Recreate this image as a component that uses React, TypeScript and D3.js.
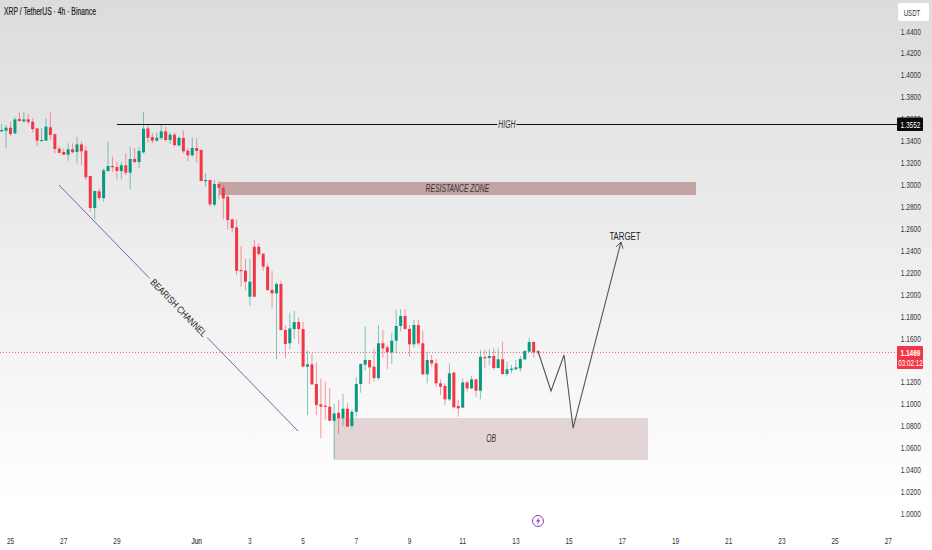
import React from "react";
import * as d3 from "d3";

const W = 932, H = 550;
const priceTicks = d3.range(0, 23).map(i => 1 + i * 0.02);
const dayTicks: [number, string][] = [[0,"25"],[2,"27"],[4,"29"],[7,"Jun"],[9,"3"],[11,"5"],[13,"7"],[15,"9"],[17,"11"],[19,"13"],[21,"15"],[23,"17"],[25,"19"],[27,"21"],[29,"23"],[31,"25"],[33,"27"]];

const directions = "GGRGRGRRRGGRRRRGRGRRRGRGGRRGRGRGGRRGGRGRGRRGRRGRGRRRRRRRGRRRRRGRRGGRRGRRRRRGRGRGGGGRRGRRGGGRRGRRGRRRRGRRGRGRGRGRGRGGGGGGRR";
const highs = [1.3552,1.3543,1.3573,1.3613,1.3658,1.3658,1.3643,1.3604,1.3518,1.3512,1.3604,1.3658,1.3467,1.3345,1.3330,1.3376,1.3376,1.3436,1.3391,1.3351,1.3078,1.2941,1.2965,1.3148,1.3391,1.3254,1.3208,1.3208,1.3284,1.3345,1.3330,1.3345,1.3664,1.3543,1.3467,1.3476,1.3543,1.3522,1.3473,1.3473,1.3436,1.3491,1.3330,1.3430,1.3421,1.3321,1.3102,1.3047,1.3041,1.3035,1.2996,1.2904,1.2692,1.2682,1.2439,1.2321,1.2318,1.2494,1.2464,1.2372,1.2281,1.2211,1.2108,1.2123,1.1719,1.1831,1.1850,1.1789,1.1749,1.1485,1.1460,1.1375,1.1232,1.1202,1.1141,1.1004,1.1035,1.1090,1.1010,1.0950,1.1242,1.1369,1.1704,1.1400,1.1506,1.1719,1.1673,1.1536,1.1649,1.1856,1.1862,1.1865,1.1719,1.1765,1.1765,1.1664,1.1476,1.1445,1.1409,1.1223,1.1187,1.1369,1.1293,1.1035,1.1233,1.1211,1.1254,1.1223,1.1491,1.1491,1.1497,1.1506,1.1506,1.1567,1.1385,1.1354,1.1400,1.1436,1.1491,1.1603,1.1567,1.1491];
const bodyTops = [1.3497,1.3518,1.3518,1.3594,1.3598,1.3594,1.3594,1.3573,1.3512,1.3406,1.3528,1.3522,1.3458,1.3327,1.3297,1.3321,1.3321,1.3366,1.3366,1.3309,1.3078,1.2941,1.2938,1.3129,1.3169,1.3169,1.3160,1.3175,1.3175,1.3233,1.3233,1.3306,1.3509,1.3512,1.3433,1.3427,1.3485,1.3485,1.3455,1.3455,1.3427,1.3424,1.3309,1.3333,1.3333,1.3315,1.3041,1.3041,1.3005,1.3005,1.2971,1.2889,1.2682,1.2609,1.2220,1.2214,1.2114,1.2433,1.2433,1.2369,1.2251,1.2038,1.2093,1.2093,1.1673,1.1688,1.1746,1.1746,1.1682,1.1360,1.1360,1.1181,1.0995,1.0983,1.0974,1.0913,1.0919,1.0956,1.0956,1.0928,1.1181,1.1363,1.1400,1.1400,1.1339,1.1552,1.1552,1.1515,1.1576,1.1710,1.1801,1.1801,1.1683,1.1719,1.1719,1.1552,1.1400,1.1400,1.1369,1.1187,1.1163,1.1278,1.1284,1.0980,1.1196,1.1196,1.1223,1.1223,1.1430,1.1427,1.1436,1.1436,1.1406,1.1406,1.1315,1.1321,1.1333,1.1409,1.1482,1.1564,1.1564,1.1479];
const bodyBottoms = [1.3485,1.3491,1.3461,1.3467,1.3579,1.3576,1.3570,1.3506,1.3400,1.3400,1.3400,1.3452,1.3324,1.3290,1.3272,1.3272,1.3294,1.3297,1.3303,1.3066,1.2786,1.2786,1.2877,1.2877,1.3123,1.3160,1.3123,1.3123,1.3108,1.3108,1.3205,1.3205,1.3294,1.3427,1.3400,1.3400,1.3424,1.3406,1.3406,1.3360,1.3357,1.3303,1.3266,1.3266,1.3306,1.3032,1.3032,1.2819,1.2816,1.2971,1.2874,1.2676,1.2603,1.2214,1.2214,1.2114,1.1977,1.1977,1.2366,1.2251,1.2038,1.2008,1.2008,1.1673,1.1546,1.1552,1.1682,1.1682,1.1339,1.1339,1.1178,1.0989,1.0974,1.0974,1.0846,1.0846,1.0868,1.0868,1.0792,1.0798,1.0928,1.1181,1.1357,1.1333,1.1235,1.1235,1.1506,1.1470,1.1470,1.1576,1.1710,1.1683,1.1543,1.1543,1.1552,1.1269,1.1269,1.1369,1.1187,1.1157,1.1041,1.1041,1.0968,1.0959,1.0965,1.1141,1.1141,1.1120,1.1120,1.1421,1.1418,1.1327,1.1327,1.1272,1.1272,1.1309,1.1315,1.1324,1.1406,1.1476,1.1470,1.1469];
const lows = [1.3476,1.3330,1.3442,1.3458,1.3573,1.3567,1.3549,1.3476,1.3351,1.3400,1.3400,1.3406,1.3284,1.3284,1.3269,1.3218,1.3284,1.3193,1.3178,1.3041,1.2752,1.2682,1.2859,1.2844,1.3117,1.3117,1.3047,1.3047,1.3087,1.2956,1.3193,1.3148,1.3284,1.3382,1.3376,1.3391,1.3406,1.3391,1.3370,1.3345,1.3345,1.3284,1.3214,1.3254,1.3199,1.3032,1.2980,1.2798,1.2798,1.2865,1.2682,1.2591,1.2561,1.2175,1.2068,1.2032,1.1895,1.1977,1.2342,1.2214,1.2032,1.1871,1.1406,1.1667,1.1415,1.1497,1.1591,1.1546,1.1333,1.0898,1.1172,1.0898,1.0685,1.0852,1.0846,1.0497,1.0725,1.0798,1.0792,1.0776,1.0883,1.1102,1.1302,1.1181,1.1202,1.1217,1.1421,1.1314,1.1363,1.1460,1.1658,1.1673,1.1430,1.1512,1.1537,1.1263,1.1187,1.1339,1.1150,1.1081,1.0989,1.1026,1.0959,1.0883,1.0965,1.1111,1.1132,1.1065,1.1041,1.1324,1.1354,1.1309,1.1324,1.1263,1.1254,1.1278,1.1309,1.1293,1.1400,1.1470,1.1424,1.1445];

const lastPrice = 1.1469, highPrice = 1.3552;
const targetDays = [19.83, 20.32, 20.81, 21.15, 22.95];
const targetPrices = [1.1482, 1.1117, 1.1445, 1.0779, 1.2476];
const UP = "#089981", DOWN = "#f23645";

const DAY = 86400000;
const t0 = Date.UTC(2025, 4, 25);
const x = d3.scaleUtc().domain([new Date(t0), new Date(t0 + 33 * DAY)]).range([10.5, 888.3]);
const y = d3.scaleLinear().domain([1.44, 1]).range([31, 513.5]);
const dx = (d: number) => x(new Date(t0 + d * DAY));
const candleX = (i: number) => dx((i * 4 - 8) / 24);
const FONT = "'Liberation Sans', Arial, sans-serif";

// The reference's lettering is tall and narrow: same glyphs, squeezed horizontally.
function T(p: { x: number; y: number; size: number; fill?: string; sx?: number; anchor?: string; italic?: boolean; bold?: boolean; heavy?: number; children: React.ReactNode }) {
  const { x, y, size, fill = "#333", sx = 0.68, anchor = "middle", italic, bold, heavy, children } = p;
  return (
    <text transform={`translate(${x},${y}) scale(${sx},1)`} fontSize={size} textAnchor={anchor} fill={fill}
      fontStyle={italic ? "italic" : undefined} fontWeight={bold ? 700 : undefined}
      stroke={heavy ? fill : undefined} strokeWidth={heavy}>{children}</text>
  );
}

export default function App() {
  const lineGen = d3.line<number>().x(d => dx(targetDays[d])).y(d => y(targetPrices[d]));
  const chanA = [dx(1.82), y(1.2996)], chanB = [dx(10.81), y(1.0752)];
  const lerp = (f: number) => [chanA[0] + (chanB[0] - chanA[0]) * f, chanA[1] + (chanB[1] - chanA[1]) * f];
  const c1 = lerp(0.38), c2 = lerp(0.62), cm = lerp(0.5);
  const angle = Math.atan2(chanB[1] - chanA[1], chanB[0] - chanA[0]) * 180 / Math.PI;
  const tipX = dx(targetDays[4]), tipY = y(targetPrices[4]);
  const prevX = dx(targetDays[3]), prevY = y(targetPrices[3]);
  const a = Math.atan2(tipY - prevY, tipX - prevX);
  const head = [a + 2.6, a - 2.6].map(t => [tipX + 7 * Math.cos(t), tipY + 7 * Math.sin(t)]);
  const hy = y(highPrice) + 0.5;

  return (
    <svg width={W} height={H} style={{ position: "absolute", left: 0, top: 0 }} fontFamily={FONT}>
      <defs>
        <linearGradient id="bg" x1="0" y1="0" x2="0" y2="1">
          <stop offset="0" stopColor="#dcdcdc" />
          <stop offset="0.92" stopColor="#ffffff" />
        </linearGradient>
      </defs>
      <rect width={W} height={H} fill="url(#bg)" />

      <rect x={dx(7.84)} width={dx(25.77) - dx(7.84)} y={y(1.3023)} height={y(1.2904) - y(1.3023)} fill="#c4a3a4" />
      <rect x={dx(12.16)} width={dx(23.97) - dx(12.16)} y={y(1.0871)} height={y(1.0488) - y(1.0871)} fill="#e3d5d6" />

      <line x1={0} x2={897} y1={y(lastPrice)} y2={y(lastPrice)} stroke={DOWN} strokeWidth={1} strokeDasharray="1 2" opacity={0.8} />

      {highs.map((h, i) => {
        const col = directions[i] === "G" ? UP : DOWN;
        const cx = candleX(i);
        const top = y(bodyTops[i]);
        const bh = Math.max(1.2, y(bodyBottoms[i]) - top);
        return (
          <g key={i}>
            <line x1={cx} x2={cx} y1={y(h)} y2={y(lows[i])} stroke={col} strokeWidth={1} opacity={0.5} />
            <rect x={cx - 1.5} width={3} y={top} height={bh} fill={col} />
          </g>
        );
      })}

      <line x1={dx(4)} x2={dx(18.3)} y1={hy} y2={hy} stroke="#111" strokeWidth={1} />
      <line x1={dx(19.02)} x2={898} y1={hy} y2={hy} stroke="#111" strokeWidth={1} />
      <T x={dx(18.66)} y={hy + 3.5} size={10} italic>HIGH</T>

      <T x={dx(16.8)} y={y(1.2964) + 3.5} size={10} italic>RESISTANCE ZONE</T>
      <T x={dx(18.07)} y={y(1.068) + 3.5} size={10} italic>OB</T>

      <line x1={chanA[0]} y1={chanA[1]} x2={c1[0]} y2={c1[1]} stroke="#7467ad" strokeWidth={1} />
      <line x1={c2[0]} y1={c2[1]} x2={chanB[0]} y2={chanB[1]} stroke="#7467ad" strokeWidth={1} />
      <text transform={`translate(${cm[0]},${cm[1]}) rotate(${angle}) scale(0.85,1)`} y={3} fontSize={9.5} textAnchor="middle" fill="#222">BEARISH CHANNEL</text>

      <path d={lineGen([0, 1, 2, 3, 4]) ?? ""} fill="none" stroke="#555" strokeWidth={1.1} />
      <path d={`M${head[0][0]},${head[0][1]}L${tipX},${tipY}L${head[1][0]},${head[1][1]}`} fill="none" stroke="#555" strokeWidth={1} />
      <T x={dx(23.1)} y={y(1.2535) + 4} size={11.5} fill="#222">TARGET</T>

      <T x={4} y={15} size={10} anchor="start" fill="#222" heavy={0.2}>XRP / TetherUS · 4h · Binance</T>

      {priceTicks.map(p => (
        <T key={p} x={910.8} y={y(p) + 3.5} size={9.6}>{p.toFixed(4)}</T>
      ))}
      {dayTicks.map(([d, s]) => (
        <T key={s + d} x={dx(d)} y={543.5} size={9.6} heavy={s === "Jun" ? 0.2 : undefined}>{s}</T>
      ))}

      <rect x={898} y={3} width={31} height={18} rx={2} fill="#fff" />
      <T x={912} y={15.5} size={9}>USDT</T>

      <rect x={897} y={y(highPrice) - 6.5} width={26} height={13.5} rx={1} fill="#0b0b0b" />
      <T x={910.5} y={y(highPrice) + 4} size={9.6} fill="#fff">{highPrice.toFixed(4)}</T>

      <rect x={897} y={346} width={26} height={23} rx={1} fill={DOWN} />
      <T x={910.5} y={356} size={9.6} fill="#fff" bold>{lastPrice.toFixed(4)}</T>
      <T x={910.5} y={366} size={9.2} fill="#fff">03:02:12</T>

      <circle cx={538} cy={521} r={5.5} fill="none" stroke="#8e44ad" strokeWidth={1} />
      <path d="M539.5,517 L536,521.6 L538,521.6 L536.8,525 L540.3,520.2 L538.3,520.2 Z" fill="#8e44ad" />
    </svg>
  );
}
